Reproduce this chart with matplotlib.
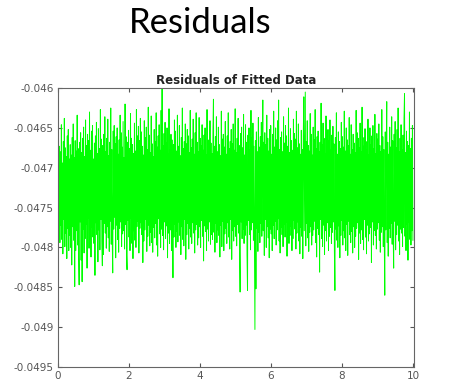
import numpy as np
import matplotlib
matplotlib.use("Agg")
import matplotlib.pyplot as plt

# residuals, in units of 1e-5 around the mean level
mean_level = -0.04724
resid_e5 = [
    -35, 93, -62, 51, -70, 44, -48, 78, -66, 30, -84, 57, -41, 86, -75, 49, -58, 38, -90, 64, -52, 72, -80, 35,
    -61, 53, -76, 40, -98, 62, -50, 79, -67, 37, -125, 58, -80, 45, -55, 90, -73, 48, -87, -123, 56, -44, 68, -92,
    43, -119, 61, -53, 75, -83, 38, -65, 84, -47, 52, -102, 66, -39, 58, -77, 94, -58, 46, -88, 70, -51, 77, -63,
    35, -71, 55, -111, 64, -45, 81, -60, 42, -94, 73, -54, 48, -79, 97, -41, 60, -68, -99, 52, -85, 66, -46, 88,
    -58, 44, -77, 61, -50, 85, -64, 39, -81, 56, -43, 99, -72, 47, -62, -108, 70, -53, 77, -38, 54, -89, 63, -48,
    74, -66, 41, -82, 59, -52, 90, -44, 68, -75, 50, -59, 82, -55, 37, -78, 104, -47, 63, -86, -104, 56, -42, 71,
    -63, 48, -80, 92, -39, 61, -71, 53, -90, 42, -55, 80, -67, 45, -76, 97, -50, 64, -43, 76, -83, 58, -52, 86,
    -45, 69, -60, 51, -95, 40, -68, 83, -54, 62, -41, 75, -81, 47, -62, 100, -48, 65, -74, 43, -57, 89, -70, 54,
    -82, 38, -51, 72, -64, 57, -46, 93, -73, 50, -87, 64, -40, 78, -59, 46, -76, 96, -53, 128, -61, 52, -79, 67,
    -44, 81, -65, 55, -49, 74, -89, 41, -58, 98, -71, 47, -54, 66, -80, 59, -42, -114, 53, -63, 84, -47, 70, -76,
    45, -56, 90, -69, 51, -44, 77, -61, 39, -85, 62, -50, 99, -66, 48, -74, 57, -41, 79, -91, 54, -60, 72, -46,
    64, -78, 43, -52, 96, -63, 49, -71, 60, -45, 85, -58, 41, -83, 68, -54, 93, -47, 56, -73, 44, -64, 87, -50,
    61, -76, 52, -42, 78, -62, 46, -93, 65, -49, 74, -56, 40, -80, 97, -53, 59, -68, 47, -44, 83, -72, 55, -60,
    42, -66, 69, 110, -57, 51, -82, 63, -46, 88, -70, 44, -54, 75, -61, 53, -88, 39, -48, 95, -75, 60, -43, 66,
    -80, 50, -59, 82, -52, 41, -71, 64, -45, 93, -63, 48, -78, 57, -41, 72, -91, 54, -55, 79, -68, 46, -50, 98,
    -62, 43, -74, 61, -47, 86, -58, 52, -82, -132, 67, -44, 75, -65, 49, -53, 91, -71, 40, -61, 78, -48, 56, -85,
    -130, 65, -42, 74, -60, 47, -79, 96, -54, 62, -45, 80, -67, 51, -72, -179, 58, -128, 69, -52, 44, -81, 87, -57,
    50, -70, 63, -46, 81, -62, 42, 109, -55, 56, -86, 68, -41, 53, -76, 90, -50, 61, -64, 45, -89, 72, -53, 77,
    -59, 41, -80, 66, -48, 95, -65, 50, -43, 74, -73, 59, -54, 83, -40, 109, -68, 47, -83, 62, -51, 69, -60, 44,
    -75, 88, -47, 55, -63, 77, -44, 64, -87, 51, -56, 99, -71, 43, -61, 73, -49, 58, -80, 46, -65, 85, -42, 67,
    -53, 60, -78, 95, -58, 49, -44, 79, -68, 54, -84, 41, -51, 71, -62, 47, -90, 65, 113, -55, 43, 119, -74, 57,
    -46, 83, -64, 52, -81, 45, -57, 92, -50, 66, -73, 40, -61, 75, -54, 59, -43, 97, -70, 48, -88, 63, -52, 70,
    -60, 44, -107, 56, -41, 105, -65, 53, -75, 80, -48, 61, -85, 42, -55, 89, -68, 50, -45, 72, -80, 58, -62, 84,
    -51, 46, -71, 65, -57, 76, -44, 54, -82, -130, 62, -53, 93, -67, 41, -76, 69, -49, 57, -89, 48, -61, 81, -42,
    63, -73, 50, -55, 95, -64, 45, -80, 74, -47, 59, -86, 52, -43, 87, -60, 41, -70, 78, -56, 47, -83, 66, -50,
    55, -76, 43, -62, 96, -52, 68, -45, 61, -91, 49, -58, 80, -71, 44, -54, 100, -66, 51, -79, 62, -41, 73, -63,
    46, -84, 57, -48, 85, -68, 40, -59, 74, -51, 53, -95, 64, -44, 77, -73, 48, -55, 91, -61, 42, -78, 67, -53,
    60, -45, 79, -67, 52, -82, 44, -57, 97, -50, 63, -75, 47, -62, -136, 69, -54, 45, 107, -70, 56, -87, 41, -52,
    75, -64, 50, -46, 88, -72, 58, -55, -102, 66, -43, 82, -79, 49, -60, 72, -48, 99, -68, 44, -85, 61, -53, 78,
    -58, 47, -75, 65, -51, 86, 117, -62, 43, -80, 70, -47, 57, -92, 52, -44, 94, -66, 48, -73, 61, -55, 77, -67,
]
t_start, t_end = 0.0, 10.0

y_ticks = [-0.0495, -0.049, -0.0485, -0.048, -0.0475, -0.047, -0.0465, -0.046]
y_tick_labels = ["-0.0495", "-0.049", "-0.0485", "-0.048", "-0.0475", "-0.047", "-0.0465", "-0.046"]
x_ticks = [0, 2, 4, 6, 8, 10]

resid = mean_level + np.array(resid_e5) * 1e-5
t = np.linspace(t_start, t_end, len(resid))

fig = plt.figure(figsize=(4.49, 3.83), dpi=100)
fig.text(0.445, 0.94, "Residuals", fontsize=25, family="Lato",
         ha="center", va="center", color="black")

ax = fig.add_axes([0.129, 0.042, 0.793, 0.728])
ax.plot(t, resid, color="#00ff00", linewidth=0.7)

ax.set_xlim(0, 10.03)
ax.set_ylim(-0.0495, -0.046)
ax.set_xticks(x_ticks)
ax.set_xticklabels([str(v) for v in x_ticks])
ax.set_yticks(y_ticks)
ax.set_yticklabels(y_tick_labels)
ax.tick_params(direction="in", top=True, right=True, length=3,
               labelsize=7.5, colors="#555555", pad=3)
for s in ax.spines.values():
    s.set_color("#666666")
    s.set_linewidth(0.8)
ax.set_title("Residuals of Fitted Data", fontsize=8.5, fontweight="bold",
             color="#222222", pad=3)

plt.savefig("out.png", dpi=100)
